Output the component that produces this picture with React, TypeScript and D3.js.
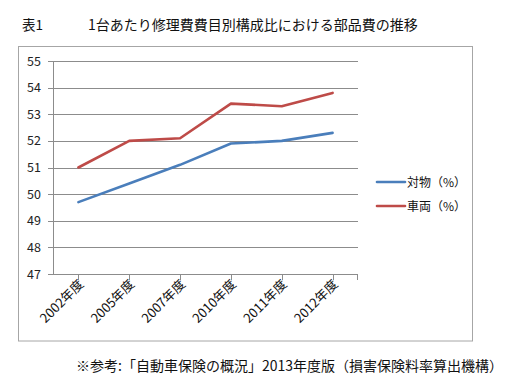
import React from "react";
import * as d3 from "d3";

const categories = ["2002年度", "2005年度", "2007年度", "2010年度", "2011年度", "2012年度"];
const taibutsu = [49.7, 50.4, 51.1, 51.9, 52.0, 52.3];
const sharyo = [51.0, 52.0, 52.1, 53.4, 53.3, 53.8];
const yTicks = [47, 48, 49, 50, 51, 52, 53, 54, 55];
const seriesNames = ["対物（%）", "車両（%）"];
const seriesColors = ["#4a7ebb", "#be4b48"];
const titleLabel = "表1";
const titleText = "1台あたり修理費費目別構成比における部品費の推移";
const footerText = "※参考:「自動車保険の概況」2013年度版（損害保険料率算出機構）";

const FONT = "'Noto Sans CJK JP', 'Noto Sans', sans-serif";

export default function App() {
  const W = 520, H = 383;
  const left = 53, right = 358, top = 61, bottom = 274;
  const x = d3.scaleBand<string>().domain(categories).range([left, right]);
  const y = d3.scaleLinear().domain([47, 55]).range([bottom, top]);
  const cx = (c: string) => (x(c) ?? 0) + x.bandwidth() / 2;
  const line = d3.line<[string, number]>().x(d => cx(d[0])).y(d => y(d[1]));
  const series = [taibutsu, sharyo];

  return (
    <svg width={W} height={H} style={{ position: "absolute", left: 0, top: 0, background: "#fff" }} fontFamily={FONT}>
      <text x={22} y={30} fontSize={13.5} fill="#111">{titleLabel}</text>
      <text x={88} y={30} fontSize={14} fill="#111">{titleText}</text>
      <rect x={18.5} y={46.5} width={454} height={294.5} fill="none" stroke="#a6a6a6" strokeWidth={1} />
      {yTicks.map(t => (
        <g key={t}>
          <line x1={left} x2={right} y1={Math.round(y(t)) + 0.5} y2={Math.round(y(t)) + 0.5} stroke="#8c8c8c" strokeWidth={1} />
          <line x1={left - 5} x2={left} y1={Math.round(y(t)) + 0.5} y2={Math.round(y(t)) + 0.5} stroke="#8c8c8c" />
          <text x={41} y={y(t) + 4.5} fontSize={12.5} textAnchor="end" fill="#222">{t}</text>
        </g>
      ))}
      <line x1={left + 0.5} x2={left + 0.5} y1={top} y2={bottom} stroke="#8c8c8c" />
      {categories.map(c => (
        <line key={c} x1={Math.round(cx(c)) + 0.5} x2={Math.round(cx(c)) + 0.5} y1={bottom} y2={bottom + 6} stroke="#8c8c8c" />
      ))}
      <line x1={right - 0.5} x2={right - 0.5} y1={bottom} y2={bottom + 6} stroke="#8c8c8c" />
      {categories.map(c => (
        <text key={c} transform={`translate(${cx(c) + 6},${bottom + 11}) rotate(-45)`} fontSize={13} textAnchor="end" fill="#111">{c}</text>
      ))}
      {series.map((s, i) => (
        <path key={i} d={line(categories.map((c, j) => [c, s[j]] as [string, number])) ?? ""} fill="none" stroke={seriesColors[i]} strokeWidth={2.6} strokeLinecap="round" strokeLinejoin="round" />
      ))}
      {seriesNames.map((n, i) => (
        <g key={n}>
          <line x1={377} x2={405} y1={182 + i * 24} y2={182 + i * 24} stroke={seriesColors[i]} strokeWidth={2.6} strokeLinecap="round" />
          <text x={407} y={186.5 + i * 24} fontSize={12} fill="#111">{n}</text>
        </g>
      ))}
      <text x={76} y={371} fontSize={14} fill="#111">{footerText}</text>
    </svg>
  );
}
